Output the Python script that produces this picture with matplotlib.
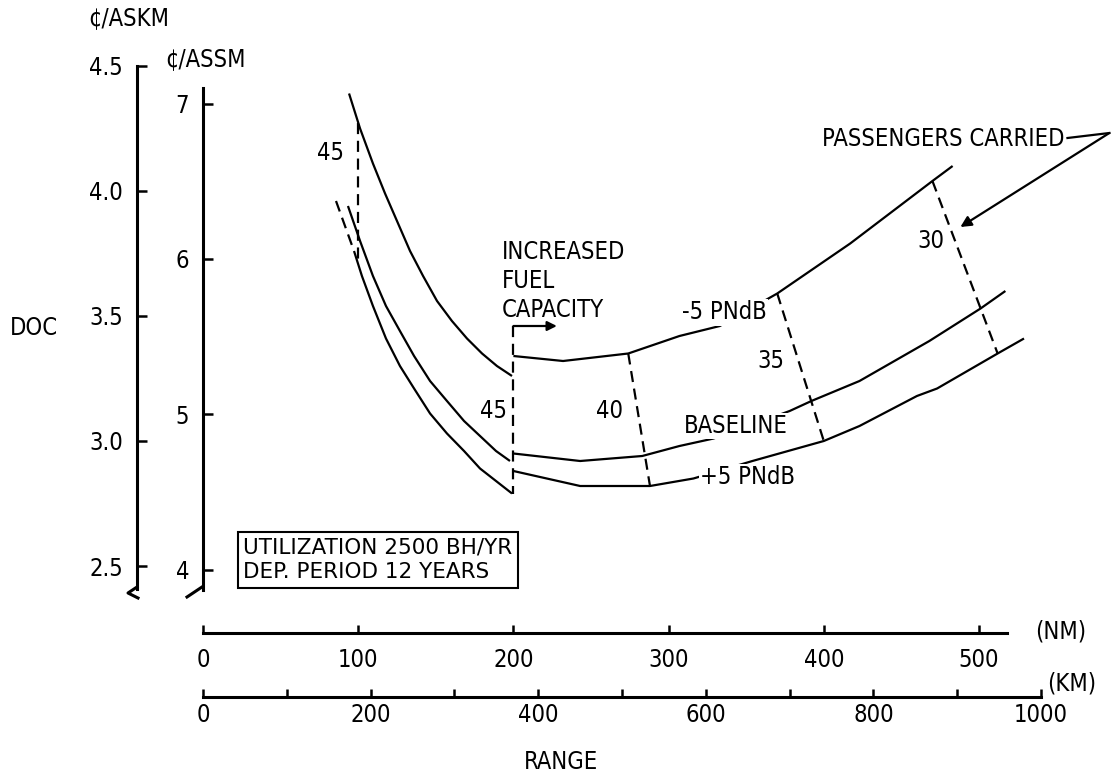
import numpy as np
import matplotlib.pyplot as plt
from matplotlib.lines import Line2D

plt.rcParams['font.family'] = ['DejaVu Sans']
plt.rcParams['font.stretch'] = 'condensed'

# DOC (cents per available seat-km) against range (n.mi.)
# -5 PNdB, short-range and increased-fuel versions
range_m5_a = [94.1, 101.2, 109.5, 117.3, 125.0, 133.4, 141.8, 150.8, 160.4, 170.1, 179.8, 189.4, 199.1]
doc_m5_a = [4.39, 4.25, 4.11, 3.99, 3.88, 3.76, 3.66, 3.56, 3.48, 3.41, 3.35, 3.30, 3.26]
range_m5_b = [200, 232, 274, 307, 333, 370, 417, 470, 483]
doc_m5_b = [3.34, 3.32, 3.35, 3.42, 3.46, 3.59, 3.79, 4.04, 4.10]

# baseline
range_base_a = [93.4, 101.2, 109.5, 117.9, 126.9, 136.0, 146.3, 157.2, 168.2, 178.5, 188.8, 197.8]
doc_base_a = [3.94, 3.80, 3.66, 3.54, 3.44, 3.34, 3.24, 3.16, 3.08, 3.02, 2.96, 2.92]
range_base_b = [200, 243, 283, 307, 329, 378, 392, 423, 468, 501, 517]
doc_base_b = [2.95, 2.92, 2.94, 2.98, 3.01, 3.12, 3.16, 3.24, 3.40, 3.53, 3.60]

# +5 PNdB (dashed extension below 97 n.mi.)
range_p5_ext = [85.7, 97.3]
doc_p5_ext = [3.96, 3.76]
range_p5_a = [97.3, 102.4, 109.5, 117.9, 126.9, 136.0, 146.3, 157.2, 168.2, 178.5, 188.8, 199.1]
doc_p5_a = [3.76, 3.66, 3.54, 3.41, 3.30, 3.21, 3.11, 3.03, 2.96, 2.89, 2.84, 2.79]
range_p5_b = [200, 243, 288, 316, 354, 400, 423, 460, 473, 512, 529]
doc_p5_b = [2.88, 2.82, 2.82, 2.85, 2.92, 3.00, 3.06, 3.18, 3.21, 3.35, 3.41]

# passengers carried lines: range where they meet the upper and lower curves
pax_labels = ['45', '45', '40', '35', '30']
pax_range_top = [100, 200, 274, 370, 470]
pax_range_bot = [100, 200, 288, 400, 512]
pax_label_pos = [(82, 4.15), (187, 3.12), (262, 3.12), (366, 3.32), (469, 3.80)]

fuel_range = 200
fuel_doc = 3.46

askm_ticks = [2.5, 3.0, 3.5, 4.0, 4.5]
assm_ticks = [4, 5, 6, 7]
nm_ticks = [0, 100, 200, 300, 400, 500]
km_ticks = [0, 200, 400, 600, 800, 1000]
km_minor = [100, 300, 500, 700, 900]

KM_PER_NM = 1.852
KM_PER_SM = 1.609344

W, H = 1114, 778
fig = plt.figure(figsize=(W / 100, H / 100), dpi=100)
ax = fig.add_axes([203 / W, (H - 633) / H, (W - 203) / W, 633 / H])
ax.set_xlim(0, (W - 203) / 1.552)
ax.set_ylim(2.5 - (633 - 566) / 250, 2.5 + 566 / 250)


def px(x, y):
    return x / W, 1 - y / H


def upper(r):
    if r < 200:
        return np.interp(r, range_m5_a, doc_m5_a)
    return np.interp(r, range_m5_b, doc_m5_b)


def lower(r):
    if r <= 200:
        return np.interp(r, range_p5_a, doc_p5_a)
    return np.interp(r, range_p5_b, doc_p5_b)


solid = dict(color='black', lw=1.6, solid_capstyle='butt', solid_joinstyle='round')
dashed = dict(color='black', lw=1.6, ls=(0, (5, 3)))

for r, d in [(range_m5_a, doc_m5_a), (range_m5_b, doc_m5_b),
             (range_base_a, doc_base_a), (range_base_b, doc_base_b),
             (range_p5_a, doc_p5_a), (range_p5_b, doc_p5_b)]:
    ax.plot(r, d, clip_on=False, **solid)
ax.plot(range_p5_ext, doc_p5_ext, **dashed)

for lab, rt, rb, (lx, ly) in zip(pax_labels, pax_range_top, pax_range_bot, pax_label_pos):
    top = fuel_doc if rt == fuel_range else upper(rt)
    ax.plot([rt, rb], [top, lower(rb)], **dashed)
    ax.text(lx, ly, lab, fontsize=17, ha='center', va='center')

# increased fuel capacity marker
ax.annotate('', xy=(fuel_range + 28, fuel_doc), xytext=(fuel_range, fuel_doc),
            arrowprops=dict(arrowstyle='-|>', color='black', lw=1.6,
                            mutation_scale=14, shrinkA=0, shrinkB=0))
ax.text(192.5, 3.64, 'INCREASED\nFUEL\nCAPACITY', fontsize=17, ha='left',
        va='center', linespacing=1.25)

# curve labels
lab_box = dict(facecolor='white', edgecolor='none', pad=1)
ax.text(336, 3.515, '-5 PNdB', fontsize=17, ha='center', va='center', bbox=lab_box, zorder=5)
ax.text(343, 3.06, 'BASELINE', fontsize=17, ha='center', va='center', bbox=lab_box, zorder=5)
ax.text(351, 2.856, '+5 PNdB', fontsize=17, ha='center', va='center', bbox=lab_box, zorder=5)

ax.text(477, 4.208, 'PASSENGERS CARRIED', fontsize=17, ha='center', va='center')
ax.plot([557, 584], [4.212, 4.232], color='black', lw=1.6, clip_on=False)
ax.annotate('', xy=(488, 3.856), xytext=(584, 4.232),
            arrowprops=dict(arrowstyle='-|>', color='black', lw=1.6,
                            mutation_scale=16, shrinkA=0, shrinkB=0))

# axes: cents/ASKM on the outer left, cents/ASSM next to the plot
for s in ['top', 'right']:
    ax.spines[s].set_visible(False)
ax.spines['left'].set_position(('outward', 66 * 0.72))
ax.spines['left'].set_bounds(2.41, 4.5)
ax.spines['left'].set_linewidth(2.2)
ax.set_yticks(askm_ticks)
ax.set_yticklabels(['%.1f' % t for t in askm_ticks])
ax.tick_params(axis='y', direction='in', length=7, width=1.8, pad=10, labelsize=17)

ax.spines['bottom'].set_bounds(0, 518)
ax.spines['bottom'].set_linewidth(2.2)
ax.set_xticks(nm_ticks)
ax.set_xticklabels([str(t) for t in nm_ticks])
ax.tick_params(axis='x', direction='in', length=6, width=1.8, pad=11, labelsize=17)

sec_y = ax.secondary_yaxis('left', functions=(lambda v: v * KM_PER_SM, lambda v: v / KM_PER_SM))
sec_y.set_yticks(assm_ticks)
sec_y.set_yticklabels([str(t) for t in assm_ticks])
sec_y.spines['left'].set_bounds(3.87, 7.1)
sec_y.spines['left'].set_linewidth(2.2)
sec_y.tick_params(direction='in', length=7, width=1.8, pad=10, labelsize=17)

sec_x = ax.secondary_xaxis(-64 / 633, functions=(lambda n: n * KM_PER_NM, lambda k: k / KM_PER_NM))
sec_x.set_xticks(km_ticks)
sec_x.set_xticklabels([str(t) for t in km_ticks])
sec_x.set_xticks(km_minor, minor=True)
sec_x.spines['bottom'].set_bounds(0, 1000)
sec_x.spines['bottom'].set_linewidth(2.2)
sec_x.tick_params(which='both', direction='in', length=6, width=1.8, pad=4, labelsize=17)

# axis break marks
for pts in [[(137, 587), (128, 593), (138, 598)], [(202, 587), (187, 597)]]:
    xs, ys = zip(*[px(x, y) for x, y in pts])
    fig.add_artist(Line2D(xs, ys, color='black', lw=2.2, transform=fig.transFigure))

fig.text(*px(88, 18), '¢/ASKM', fontsize=17, ha='left', va='center')
fig.text(*px(165, 59), '¢/ASSM', fontsize=17, ha='left', va='center')
fig.text(*px(10, 328), 'DOC', fontsize=17, ha='left', va='center')
fig.text(*px(1035, 631), '(NM)', fontsize=17, ha='left', va='center')
fig.text(*px(1047, 683), '(KM)', fontsize=17, ha='left', va='center')
fig.text(*px(561, 762), 'RANGE', fontsize=17, ha='center', va='center')
fig.text(*px(243, 560), 'UTILIZATION 2500 BH/YR\nDEP. PERIOD 12 YEARS', fontsize=15.5,
         fontstretch='normal', ha='left', va='center', linespacing=1.3,
         bbox=dict(boxstyle='square,pad=0.25', facecolor='white', edgecolor='black', lw=1.5))

fig.savefig('out.png', dpi=100)
